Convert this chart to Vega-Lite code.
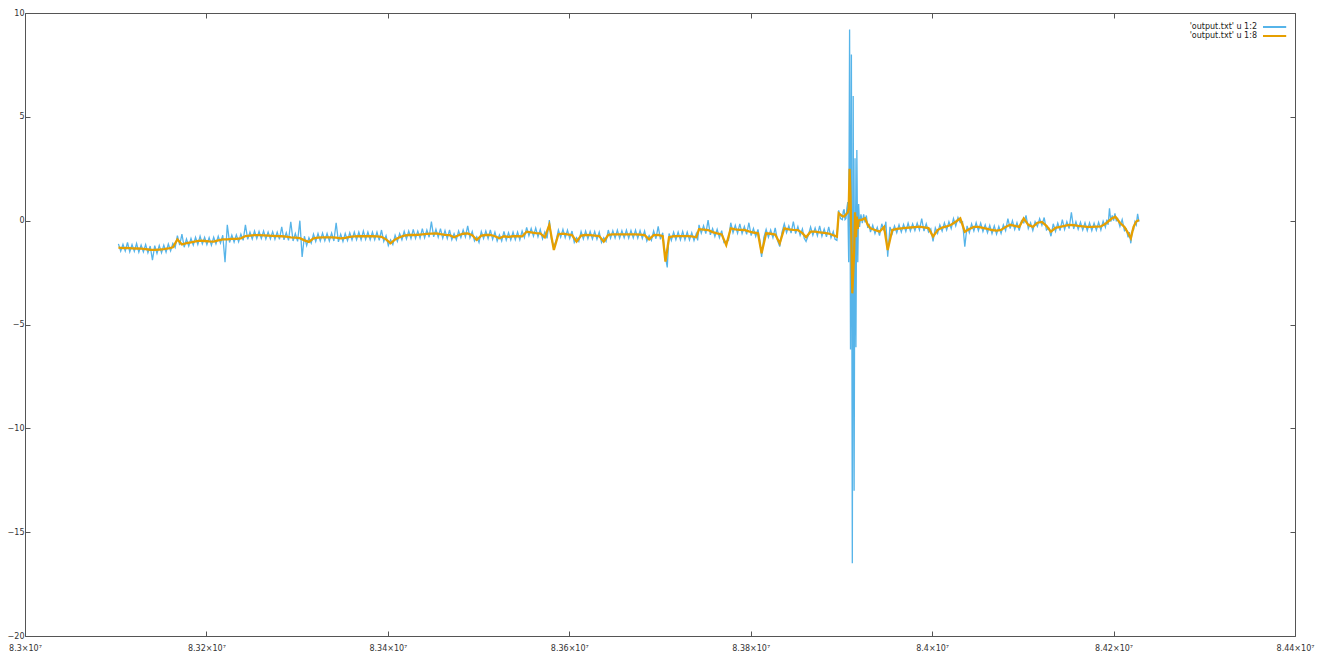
{
  "$schema": "https://vega.github.io/schema/vega-lite/v6.json",
  "width": 1270,
  "height": 623,
  "autosize": {"type": "none"},
  "padding": {"left": 25, "top": 13, "right": 31, "bottom": 20},
  "background": "white",
  "config": {
    "view": {"stroke": "#555555", "strokeWidth": 1},
    "font": "DejaVu Sans",
    "axis": {"grid": false, "domain": false, "tickColor": "#555555", "tickSize": -5, "labelFont": "DejaVu Sans", "labelFontSize": 8, "labelColor": "#333333", "title": null}
  },
  "datasets": {
    "col2": [
      {"x":83103000,"y":-1.12},{"x":83105500,"y":-1.47},{"x":83108000,"y":-1.14},{"x":83110500,"y":-1.46},{"x":83113000,"y":-1.05},{"x":83115500,"y":-1.50},{"x":83118000,"y":-1.15},{"x":83120500,"y":-1.48},{"x":83123000,"y":-1.10},{"x":83125500,"y":-1.52},
      {"x":83128000,"y":-1.18},{"x":83130500,"y":-1.50},{"x":83133000,"y":-1.15},{"x":83135500,"y":-1.55},{"x":83138000,"y":-1.22},{"x":83140500,"y":-1.90},{"x":83143000,"y":-1.20},{"x":83145500,"y":-1.58},{"x":83148000,"y":-1.20},{"x":83150500,"y":-1.55},
      {"x":83153000,"y":-1.18},{"x":83155500,"y":-1.52},{"x":83158000,"y":-1.12},{"x":83160500,"y":-1.45},{"x":83163000,"y":-1.10},{"x":83165500,"y":-1.30},{"x":83168000,"y":-0.72},{"x":83170500,"y":-1.18},{"x":83173000,"y":-0.65},{"x":83175500,"y":-1.28},
      {"x":83178000,"y":-0.88},{"x":83180500,"y":-1.22},{"x":83183000,"y":-0.85},{"x":83185500,"y":-1.18},{"x":83188000,"y":-0.80},{"x":83190500,"y":-1.15},{"x":83193000,"y":-0.75},{"x":83195500,"y":-1.12},{"x":83198000,"y":-0.80},{"x":83200500,"y":-1.15},
      {"x":83203000,"y":-0.82},{"x":83205500,"y":-1.18},{"x":83208000,"y":-0.80},{"x":83210500,"y":-1.12},{"x":83213000,"y":-0.75},{"x":83215500,"y":-1.08},{"x":83218000,"y":-0.70},{"x":83220500,"y":-2.00},{"x":83223000,"y":-0.20},{"x":83225500,"y":-1.05},
      {"x":83228000,"y":-0.70},{"x":83230500,"y":-1.03},{"x":83233000,"y":-0.68},{"x":83235500,"y":-1.02},{"x":83238000,"y":-0.65},{"x":83240500,"y":-0.95},{"x":83243000,"y":-0.20},{"x":83245500,"y":-0.90},{"x":83248000,"y":-0.55},{"x":83250500,"y":-0.88},
      {"x":83253000,"y":-0.50},{"x":83255500,"y":-0.86},{"x":83258000,"y":-0.52},{"x":83260500,"y":-0.86},{"x":83263000,"y":-0.50},{"x":83265500,"y":-0.88},{"x":83268000,"y":-0.55},{"x":83270500,"y":-0.88},{"x":83273000,"y":-0.53},{"x":83275500,"y":-0.90},
      {"x":83278000,"y":-0.55},{"x":83280500,"y":-0.90},{"x":83283000,"y":-0.30},{"x":83285500,"y":-0.92},{"x":83288000,"y":-0.58},{"x":83290500,"y":-0.95},{"x":83293000,"y":-0.05},{"x":83295500,"y":-0.98},{"x":83298000,"y":-0.62},{"x":83300500,"y":-1.00},
      {"x":83303000,"y":0.00},{"x":83305500,"y":-1.75},{"x":83308000,"y":-0.75},{"x":83310500,"y":-1.20},{"x":83313000,"y":-0.82},{"x":83315500,"y":-1.08},{"x":83318000,"y":-0.65},{"x":83320500,"y":-1.00},{"x":83323000,"y":-0.62},{"x":83325500,"y":-0.98},
      {"x":83328000,"y":-0.60},{"x":83330500,"y":-0.97},{"x":83333000,"y":-0.62},{"x":83335500,"y":-0.98},{"x":83338000,"y":-0.60},{"x":83340500,"y":-0.98},{"x":83343000,"y":-0.10},{"x":83345500,"y":-1.02},{"x":83348000,"y":-0.65},{"x":83350500,"y":-1.00},
      {"x":83353000,"y":-0.62},{"x":83355500,"y":-0.96},{"x":83358000,"y":-0.58},{"x":83360500,"y":-0.93},{"x":83363000,"y":-0.55},{"x":83365500,"y":-0.92},{"x":83368000,"y":-0.55},{"x":83370500,"y":-0.92},{"x":83373000,"y":-0.50},{"x":83375500,"y":-0.90},
      {"x":83378000,"y":-0.55},{"x":83380500,"y":-0.92},{"x":83383000,"y":-0.55},{"x":83385500,"y":-0.92},{"x":83388000,"y":-0.55},{"x":83390500,"y":-0.95},{"x":83393000,"y":-0.45},{"x":83395500,"y":-1.00},{"x":83398000,"y":-0.72},{"x":83400500,"y":-1.20},
      {"x":83403000,"y":-0.92},{"x":83405500,"y":-1.15},{"x":83408000,"y":-0.70},{"x":83410500,"y":-1.00},{"x":83413000,"y":-0.62},{"x":83415500,"y":-0.92},{"x":83418000,"y":-0.52},{"x":83420500,"y":-0.88},{"x":83423000,"y":-0.50},{"x":83425500,"y":-0.86},
      {"x":83428000,"y":-0.42},{"x":83430500,"y":-0.85},{"x":83433000,"y":-0.50},{"x":83435500,"y":-0.84},{"x":83438000,"y":-0.38},{"x":83440500,"y":-0.82},{"x":83443000,"y":-0.45},{"x":83445500,"y":-0.80},{"x":83448000,"y":-0.05},{"x":83450500,"y":-0.78},
      {"x":83453000,"y":-0.42},{"x":83455500,"y":-0.80},{"x":83458000,"y":-0.38},{"x":83460500,"y":-0.85},{"x":83463000,"y":-0.48},{"x":83465500,"y":-0.86},{"x":83468000,"y":-0.45},{"x":83470500,"y":-0.92},{"x":83473000,"y":-0.62},{"x":83475500,"y":-0.92},
      {"x":83478000,"y":-0.50},{"x":83480500,"y":-0.82},{"x":83483000,"y":-0.45},{"x":83485500,"y":-0.78},{"x":83488000,"y":-0.25},{"x":83490500,"y":-0.82},{"x":83493000,"y":-0.52},{"x":83495500,"y":-0.98},{"x":83498000,"y":-0.78},{"x":83500500,"y":-1.05},
      {"x":83503000,"y":-0.52},{"x":83505500,"y":-0.86},{"x":83508000,"y":-0.50},{"x":83510500,"y":-0.86},{"x":83513000,"y":-0.45},{"x":83515500,"y":-0.90},{"x":83518000,"y":-0.55},{"x":83520500,"y":-0.98},{"x":83523000,"y":-0.68},{"x":83525500,"y":-0.98},
      {"x":83528000,"y":-0.52},{"x":83530500,"y":-0.94},{"x":83533000,"y":-0.58},{"x":83535500,"y":-0.93},{"x":83538000,"y":-0.55},{"x":83540500,"y":-0.92},{"x":83543000,"y":-0.55},{"x":83545500,"y":-0.92},{"x":83548000,"y":-0.50},{"x":83550500,"y":-0.82},
      {"x":83553000,"y":-0.32},{"x":83555500,"y":-0.72},{"x":83558000,"y":-0.38},{"x":83560500,"y":-0.75},{"x":83563000,"y":-0.35},{"x":83565500,"y":-0.78},{"x":83568000,"y":-0.42},{"x":83570500,"y":-0.88},{"x":83573000,"y":-0.55},{"x":83575500,"y":-0.85},
      {"x":83578000,"y":0.03},{"x":83580500,"y":-0.95},{"x":83583000,"y":-1.25},{"x":83585500,"y":-0.95},{"x":83588000,"y":-0.45},{"x":83590500,"y":-0.80},{"x":83593000,"y":-0.42},{"x":83595500,"y":-0.82},{"x":83598000,"y":-0.45},{"x":83600500,"y":-0.85},
      {"x":83603000,"y":-0.50},{"x":83605500,"y":-1.05},{"x":83608000,"y":-0.82},{"x":83610500,"y":-1.00},{"x":83613000,"y":-0.52},{"x":83615500,"y":-0.88},{"x":83618000,"y":-0.50},{"x":83620500,"y":-0.87},{"x":83623000,"y":-0.52},{"x":83625500,"y":-0.88},
      {"x":83628000,"y":-0.52},{"x":83630500,"y":-0.90},{"x":83633000,"y":-0.55},{"x":83635500,"y":-1.05},{"x":83638000,"y":-0.82},{"x":83640500,"y":-1.00},{"x":83643000,"y":-0.45},{"x":83645500,"y":-0.84},{"x":83648000,"y":-0.48},{"x":83650500,"y":-0.83},
      {"x":83653000,"y":-0.45},{"x":83655500,"y":-0.84},{"x":83658000,"y":-0.48},{"x":83660500,"y":-0.82},{"x":83663000,"y":-0.45},{"x":83665500,"y":-0.84},{"x":83668000,"y":-0.47},{"x":83670500,"y":-0.83},{"x":83673000,"y":-0.45},{"x":83675500,"y":-0.84},
      {"x":83678000,"y":-0.48},{"x":83680500,"y":-0.86},{"x":83683000,"y":-0.50},{"x":83685500,"y":-0.98},{"x":83688000,"y":-0.72},{"x":83690500,"y":-0.95},{"x":83693000,"y":-0.50},{"x":83695500,"y":-0.87},{"x":83698000,"y":-0.28},{"x":83700500,"y":-0.90},
      {"x":83703000,"y":-0.58},{"x":83704500,"y":-1.20},{"x":83706000,"y":-1.75},{"x":83708000,"y":-2.25},{"x":83710000,"y":-0.62},{"x":83712500,"y":-0.95},{"x":83715000,"y":-0.55},{"x":83717500,"y":-0.92},{"x":83720000,"y":-0.55},{"x":83722500,"y":-0.92},
      {"x":83725000,"y":-0.52},{"x":83727500,"y":-0.92},{"x":83730000,"y":-0.55},{"x":83732500,"y":-0.93},{"x":83735000,"y":-0.58},{"x":83737500,"y":-0.96},{"x":83740000,"y":-0.62},{"x":83741500,"y":-0.95},{"x":83743000,"y":-0.20},{"x":83745500,"y":-0.60},
      {"x":83748000,"y":-0.25},{"x":83750500,"y":-0.62},{"x":83753000,"y":0.03},{"x":83755500,"y":-0.68},{"x":83758000,"y":-0.38},{"x":83760500,"y":-0.76},{"x":83763000,"y":-0.42},{"x":83765500,"y":-0.82},{"x":83768000,"y":-0.48},{"x":83770500,"y":-1.05},
      {"x":83773000,"y":-1.00},{"x":83775500,"y":-0.95},{"x":83778000,"y":-0.10},{"x":83780500,"y":-0.58},{"x":83783000,"y":-0.22},{"x":83785500,"y":-0.60},{"x":83788000,"y":-0.15},{"x":83790500,"y":-0.62},{"x":83793000,"y":-0.28},{"x":83795500,"y":-0.66},
      {"x":83798000,"y":-0.10},{"x":83800500,"y":-0.72},{"x":83803000,"y":-0.38},{"x":83805500,"y":-0.76},{"x":83808000,"y":-0.42},{"x":83810000,"y":-0.95},{"x":83812000,"y":-1.75},{"x":83814500,"y":-0.80},{"x":83817000,"y":-0.42},{"x":83819500,"y":-0.80},
      {"x":83822000,"y":-0.45},{"x":83824500,"y":-0.82},{"x":83827000,"y":-0.35},{"x":83829500,"y":-0.95},{"x":83832000,"y":-1.25},{"x":83834500,"y":-0.55},{"x":83837000,"y":-0.15},{"x":83839500,"y":-0.58},{"x":83842000,"y":-0.25},{"x":83844500,"y":-0.60},
      {"x":83847000,"y":-0.05},{"x":83849500,"y":-0.62},{"x":83852000,"y":-0.28},{"x":83854500,"y":-0.70},{"x":83857000,"y":-0.40},{"x":83859000,"y":-0.85},{"x":83861000,"y":-1.00},{"x":83863500,"y":-0.70},{"x":83866000,"y":-0.30},{"x":83868500,"y":-0.70},
      {"x":83871000,"y":-0.35},{"x":83873500,"y":-0.72},{"x":83876000,"y":-0.25},{"x":83878500,"y":-0.75},{"x":83881000,"y":-0.40},{"x":83883500,"y":-0.78},{"x":83886000,"y":-0.30},{"x":83888500,"y":-0.82},{"x":83891000,"y":-0.52},{"x":83893000,"y":-0.90},
      {"x":83895000,"y":-0.95},{"x":83897000,"y":0.50},{"x":83899000,"y":0.10},{"x":83901000,"y":0.05},{"x":83902000,"y":0.45},{"x":83903000,"y":0.55},{"x":83904000,"y":0.05},{"x":83905000,"y":0.10},{"x":83906000,"y":0.60},{"x":83907000,"y":0.90},
      {"x":83908000,"y":-2.00},{"x":83909000,"y":9.20},{"x":83910000,"y":-6.20},{"x":83911000,"y":8.00},{"x":83912000,"y":-16.50},{"x":83913000,"y":6.00},{"x":83914000,"y":-13.00},{"x":83915000,"y":3.00},{"x":83916000,"y":-6.10},{"x":83917000,"y":3.40},
      {"x":83918000,"y":-2.00},{"x":83919000,"y":0.80},{"x":83920000,"y":-0.30},{"x":83921500,"y":0.30},{"x":83923000,"y":-0.12},{"x":83924500,"y":0.30},{"x":83926000,"y":-0.08},{"x":83927500,"y":0.25},{"x":83929000,"y":-0.35},{"x":83930500,"y":-0.15},
      {"x":83932000,"y":-0.55},{"x":83934500,"y":-0.22},{"x":83937000,"y":-0.62},{"x":83939500,"y":-0.32},{"x":83942000,"y":-0.72},{"x":83944500,"y":-0.15},{"x":83947000,"y":-0.50},{"x":83949000,"y":-0.05},{"x":83951000,"y":-1.73},{"x":83953500,"y":-0.30},
      {"x":83956000,"y":-0.62},{"x":83958500,"y":-0.25},{"x":83961000,"y":-0.58},{"x":83963500,"y":-0.20},{"x":83966000,"y":-0.55},{"x":83968500,"y":-0.18},{"x":83971000,"y":-0.52},{"x":83973500,"y":-0.12},{"x":83976000,"y":-0.50},{"x":83978500,"y":-0.15},
      {"x":83981000,"y":-0.48},{"x":83983500,"y":-0.12},{"x":83986000,"y":-0.45},{"x":83988500,"y":0.10},{"x":83991000,"y":-0.50},{"x":83993500,"y":-0.15},{"x":83996000,"y":-0.55},{"x":83998500,"y":-0.40},{"x":84001000,"y":-1.00},{"x":84003500,"y":-0.35},
      {"x":84006000,"y":-0.62},{"x":84008500,"y":-0.20},{"x":84011000,"y":-0.50},{"x":84013500,"y":-0.10},{"x":84016000,"y":-0.45},{"x":84018500,"y":-0.05},{"x":84021000,"y":-0.38},{"x":84023500,"y":0.10},{"x":84026000,"y":-0.25},{"x":84028500,"y":0.15},
      {"x":84031000,"y":-0.10},{"x":84033500,"y":-0.05},{"x":84036000,"y":-1.25},{"x":84038500,"y":-0.25},{"x":84041000,"y":-0.58},{"x":84043500,"y":-0.15},{"x":84046000,"y":-0.50},{"x":84048500,"y":-0.10},{"x":84051000,"y":-0.48},{"x":84053500,"y":-0.12},
      {"x":84056000,"y":-0.52},{"x":84058500,"y":-0.20},{"x":84061000,"y":-0.58},{"x":84063500,"y":-0.22},{"x":84066000,"y":-0.62},{"x":84068500,"y":-0.25},{"x":84071000,"y":-0.65},{"x":84073500,"y":-0.28},{"x":84076000,"y":-0.62},{"x":84078500,"y":-0.20},
      {"x":84081000,"y":-0.48},{"x":84083500,"y":0.10},{"x":84086000,"y":-0.38},{"x":84088500,"y":0.00},{"x":84091000,"y":-0.42},{"x":84093500,"y":-0.10},{"x":84096000,"y":-0.48},{"x":84098500,"y":0.00},{"x":84101000,"y":-0.10},{"x":84103500,"y":0.25},
      {"x":84106000,"y":-0.38},{"x":84108500,"y":-0.10},{"x":84111000,"y":-0.48},{"x":84113500,"y":-0.05},{"x":84116000,"y":-0.28},{"x":84118500,"y":0.10},{"x":84121000,"y":-0.22},{"x":84123500,"y":0.15},{"x":84126000,"y":-0.45},{"x":84128500,"y":-0.35},
      {"x":84131000,"y":-0.75},{"x":84133500,"y":-0.15},{"x":84136000,"y":-0.52},{"x":84138500,"y":-0.12},{"x":84141000,"y":-0.48},{"x":84143500,"y":0.05},{"x":84146000,"y":-0.42},{"x":84148500,"y":-0.05},{"x":84151000,"y":-0.38},{"x":84153500,"y":0.40},
      {"x":84156000,"y":-0.40},{"x":84158500,"y":-0.05},{"x":84161000,"y":-0.42},{"x":84163500,"y":-0.08},{"x":84166000,"y":-0.45},{"x":84168500,"y":-0.10},{"x":84171000,"y":-0.48},{"x":84173500,"y":-0.10},{"x":84176000,"y":-0.48},{"x":84178500,"y":-0.12},
      {"x":84181000,"y":-0.46},{"x":84183500,"y":-0.08},{"x":84186000,"y":-0.45},{"x":84188500,"y":-0.02},{"x":84191000,"y":-0.32},{"x":84192500,"y":0.05},{"x":84194000,"y":-0.20},{"x":84195500,"y":0.60},{"x":84197000,"y":-0.05},{"x":84198500,"y":0.25},
      {"x":84200000,"y":0.00},{"x":84201500,"y":0.35},{"x":84203000,"y":0.00},{"x":84204500,"y":0.10},{"x":84207000,"y":-0.28},{"x":84209500,"y":0.05},{"x":84212000,"y":-0.48},{"x":84214000,"y":-0.40},{"x":84216000,"y":-0.80},{"x":84217500,"y":-0.55},
      {"x":84219000,"y":-1.09},{"x":84220500,"y":-0.50},{"x":84222000,"y":-0.45},{"x":84223500,"y":-0.05},{"x":84225000,"y":-0.20},{"x":84226500,"y":0.33},{"x":84228000,"y":-0.05}
    ],
    "col8": [
      {"x":83103000,"y":-1.30},{"x":83108000,"y":-1.32},{"x":83113000,"y":-1.31},{"x":83118000,"y":-1.33},{"x":83123000,"y":-1.34},{"x":83128000,"y":-1.35},{"x":83133000,"y":-1.37},{"x":83138000,"y":-1.40},{"x":83143000,"y":-1.41},{"x":83148000,"y":-1.39},
      {"x":83153000,"y":-1.37},{"x":83158000,"y":-1.34},{"x":83163000,"y":-1.28},{"x":83168000,"y":-0.90},{"x":83173000,"y":-1.15},{"x":83178000,"y":-1.08},{"x":83183000,"y":-1.04},{"x":83188000,"y":-1.00},{"x":83193000,"y":-0.96},{"x":83198000,"y":-0.98},
      {"x":83203000,"y":-1.00},{"x":83208000,"y":-1.01},{"x":83213000,"y":-0.95},{"x":83218000,"y":-0.90},{"x":83223000,"y":-0.90},{"x":83228000,"y":-0.88},{"x":83233000,"y":-0.88},{"x":83238000,"y":-0.85},{"x":83243000,"y":-0.74},{"x":83248000,"y":-0.72},
      {"x":83253000,"y":-0.70},{"x":83258000,"y":-0.70},{"x":83263000,"y":-0.71},{"x":83268000,"y":-0.72},{"x":83273000,"y":-0.73},{"x":83278000,"y":-0.74},{"x":83283000,"y":-0.75},{"x":83288000,"y":-0.77},{"x":83293000,"y":-0.80},{"x":83298000,"y":-0.82},
      {"x":83303000,"y":-0.84},{"x":83308000,"y":-0.95},{"x":83313000,"y":-1.02},{"x":83318000,"y":-0.85},{"x":83323000,"y":-0.82},{"x":83328000,"y":-0.80},{"x":83333000,"y":-0.80},{"x":83338000,"y":-0.80},{"x":83343000,"y":-0.82},{"x":83348000,"y":-0.85},
      {"x":83353000,"y":-0.83},{"x":83358000,"y":-0.78},{"x":83363000,"y":-0.76},{"x":83368000,"y":-0.75},{"x":83373000,"y":-0.75},{"x":83378000,"y":-0.74},{"x":83383000,"y":-0.75},{"x":83388000,"y":-0.76},{"x":83393000,"y":-0.78},{"x":83398000,"y":-0.90},
      {"x":83403000,"y":-1.09},{"x":83408000,"y":-0.90},{"x":83413000,"y":-0.80},{"x":83418000,"y":-0.72},{"x":83423000,"y":-0.69},{"x":83428000,"y":-0.69},{"x":83433000,"y":-0.68},{"x":83438000,"y":-0.66},{"x":83443000,"y":-0.64},{"x":83448000,"y":-0.62},
      {"x":83453000,"y":-0.61},{"x":83458000,"y":-0.65},{"x":83463000,"y":-0.68},{"x":83468000,"y":-0.70},{"x":83473000,"y":-0.80},{"x":83478000,"y":-0.70},{"x":83483000,"y":-0.63},{"x":83488000,"y":-0.61},{"x":83493000,"y":-0.70},{"x":83498000,"y":-0.93},
      {"x":83503000,"y":-0.72},{"x":83508000,"y":-0.69},{"x":83513000,"y":-0.69},{"x":83518000,"y":-0.75},{"x":83523000,"y":-0.85},{"x":83528000,"y":-0.75},{"x":83533000,"y":-0.78},{"x":83538000,"y":-0.75},{"x":83543000,"y":-0.75},{"x":83548000,"y":-0.76},
      {"x":83553000,"y":-0.53},{"x":83558000,"y":-0.56},{"x":83563000,"y":-0.60},{"x":83568000,"y":-0.61},{"x":83573000,"y":-0.80},{"x":83578000,"y":-0.20},{"x":83583000,"y":-1.41},{"x":83588000,"y":-0.65},{"x":83593000,"y":-0.62},{"x":83598000,"y":-0.66},
      {"x":83603000,"y":-0.69},{"x":83608000,"y":-1.01},{"x":83613000,"y":-0.72},{"x":83618000,"y":-0.69},{"x":83623000,"y":-0.70},{"x":83628000,"y":-0.72},{"x":83633000,"y":-0.74},{"x":83638000,"y":-1.01},{"x":83643000,"y":-0.68},{"x":83648000,"y":-0.66},
      {"x":83653000,"y":-0.66},{"x":83658000,"y":-0.66},{"x":83663000,"y":-0.66},{"x":83668000,"y":-0.66},{"x":83673000,"y":-0.66},{"x":83678000,"y":-0.67},{"x":83683000,"y":-0.70},{"x":83688000,"y":-0.90},{"x":83693000,"y":-0.70},{"x":83698000,"y":-0.69},
      {"x":83703000,"y":-0.75},{"x":83706000,"y":-1.97},{"x":83710000,"y":-0.80},{"x":83715000,"y":-0.75},{"x":83720000,"y":-0.74},{"x":83725000,"y":-0.74},{"x":83730000,"y":-0.74},{"x":83735000,"y":-0.76},{"x":83740000,"y":-0.80},{"x":83743000,"y":-0.41},
      {"x":83748000,"y":-0.43},{"x":83753000,"y":-0.45},{"x":83758000,"y":-0.55},{"x":83763000,"y":-0.61},{"x":83768000,"y":-0.66},{"x":83773000,"y":-1.17},{"x":83778000,"y":-0.37},{"x":83783000,"y":-0.42},{"x":83788000,"y":-0.44},{"x":83793000,"y":-0.45},
      {"x":83798000,"y":-0.52},{"x":83803000,"y":-0.57},{"x":83808000,"y":-0.61},{"x":83812000,"y":-1.57},{"x":83817000,"y":-0.61},{"x":83822000,"y":-0.63},{"x":83827000,"y":-0.67},{"x":83832000,"y":-1.09},{"x":83837000,"y":-0.37},{"x":83842000,"y":-0.42},
      {"x":83847000,"y":-0.44},{"x":83852000,"y":-0.45},{"x":83857000,"y":-0.60},{"x":83861000,"y":-0.80},{"x":83866000,"y":-0.53},{"x":83871000,"y":-0.53},{"x":83876000,"y":-0.56},{"x":83881000,"y":-0.59},{"x":83886000,"y":-0.62},{"x":83891000,"y":-0.70},
      {"x":83895000,"y":-0.77},{"x":83897000,"y":0.36},{"x":83901000,"y":0.22},{"x":83903000,"y":0.20},{"x":83905000,"y":0.30},{"x":83907000,"y":0.40},{"x":83908000,"y":0.60},{"x":83909000,"y":2.50},{"x":83910000,"y":1.20},{"x":83911000,"y":-1.00},
      {"x":83912000,"y":-3.50},{"x":83913000,"y":-2.50},{"x":83914000,"y":-1.50},{"x":83915000,"y":0.40},{"x":83916000,"y":-0.80},{"x":83917000,"y":0.20},{"x":83918000,"y":-0.40},{"x":83919000,"y":0.00},{"x":83920000,"y":0.03},{"x":83923000,"y":0.05},
      {"x":83926000,"y":0.11},{"x":83929000,"y":-0.20},{"x":83932000,"y":-0.37},{"x":83937000,"y":-0.45},{"x":83942000,"y":-0.53},{"x":83947000,"y":-0.30},{"x":83951000,"y":-1.41},{"x":83956000,"y":-0.45},{"x":83961000,"y":-0.40},{"x":83966000,"y":-0.37},
      {"x":83971000,"y":-0.35},{"x":83976000,"y":-0.33},{"x":83981000,"y":-0.31},{"x":83986000,"y":-0.29},{"x":83991000,"y":-0.32},{"x":83996000,"y":-0.36},{"x":84001000,"y":-0.77},{"x":84006000,"y":-0.45},{"x":84011000,"y":-0.33},{"x":84016000,"y":-0.28},
      {"x":84021000,"y":-0.20},{"x":84026000,"y":-0.05},{"x":84031000,"y":0.11},{"x":84036000,"y":-0.53},{"x":84041000,"y":-0.40},{"x":84046000,"y":-0.30},{"x":84051000,"y":-0.30},{"x":84056000,"y":-0.35},{"x":84061000,"y":-0.40},{"x":84066000,"y":-0.45},
      {"x":84071000,"y":-0.48},{"x":84076000,"y":-0.45},{"x":84081000,"y":-0.30},{"x":84086000,"y":-0.20},{"x":84091000,"y":-0.25},{"x":84096000,"y":-0.30},{"x":84101000,"y":0.11},{"x":84106000,"y":-0.20},{"x":84111000,"y":-0.30},{"x":84116000,"y":-0.10},
      {"x":84121000,"y":-0.06},{"x":84126000,"y":-0.25},{"x":84131000,"y":-0.53},{"x":84136000,"y":-0.35},{"x":84141000,"y":-0.30},{"x":84146000,"y":-0.25},{"x":84151000,"y":-0.20},{"x":84156000,"y":-0.22},{"x":84161000,"y":-0.25},{"x":84166000,"y":-0.27},
      {"x":84171000,"y":-0.30},{"x":84176000,"y":-0.30},{"x":84181000,"y":-0.29},{"x":84186000,"y":-0.28},{"x":84191000,"y":-0.15},{"x":84194000,"y":-0.04},{"x":84198000,"y":0.10},{"x":84202000,"y":0.19},{"x":84207000,"y":-0.10},{"x":84212000,"y":-0.30},
      {"x":84216000,"y":-0.60},{"x":84219000,"y":-0.85},{"x":84222000,"y":-0.30},{"x":84225000,"y":-0.04},{"x":84228000,"y":0.03}
    ]
  },
  "layer": [
    {
      "data": {"name": "col2"},
      "mark": {"type": "line", "strokeWidth": 1.3, "interpolate": "linear"},
      "encoding": {
        "x": {"field": "x", "type": "quantitative", "scale": {"domain": [83000000, 84400000], "nice": false, "zero": false},
              "axis": {"orient": "bottom", "values": [83000000, 83200000, 83400000, 83600000, 83800000, 84000000, 84200000, 84400000],
                       "labelExpr": "format(datum.value / 10000000, '.3~f') + '×10⁷'", "labelPadding": 13, "labelFlush": false}},
        "y": {"field": "y", "type": "quantitative", "scale": {"domain": [-20, 10], "nice": false, "zero": false},
              "axis": {"orient": "left", "values": [-20, -15, -10, -5, 0, 5, 10], "labelPadding": 6, "labelFlush": false}},
        "color": {"datum": "'output.txt' u 1:2", "type": "nominal",
                  "scale": {"domain": ["'output.txt' u 1:2", "'output.txt' u 1:8"], "range": ["#56b4e9", "#e69f00"]},
                  "legend": {"orient": "none", "legendX": 1244.6, "legendY": 9, "title": null, "symbolType": "M-2.9,0H2.9", "symbolSize": 64,
                             "symbolStrokeWidth": 2, "labelAlign": "right", "labelOffset": -22.6, "labelFontSize": 8, "labelFont": "DejaVu Sans",
                             "labelColor": "#222222", "rowPadding": 0, "padding": 0}}
      }
    },
    {
      "data": {"name": "col8"},
      "mark": {"type": "line", "strokeWidth": 2.3, "interpolate": "linear"},
      "encoding": {
        "x": {"field": "x", "type": "quantitative",
              "axis": {"orient": "top", "labels": false, "values": [83000000, 83200000, 83400000, 83600000, 83800000, 84000000, 84200000, 84400000]}},
        "y": {"field": "y", "type": "quantitative",
              "axis": {"orient": "right", "labels": false, "values": [-20, -15, -10, -5, 0, 5, 10]}},
        "color": {"datum": "'output.txt' u 1:8", "type": "nominal"}
      }
    }
  ],
  "resolve": {"axis": {"x": "independent", "y": "independent"}}
}
